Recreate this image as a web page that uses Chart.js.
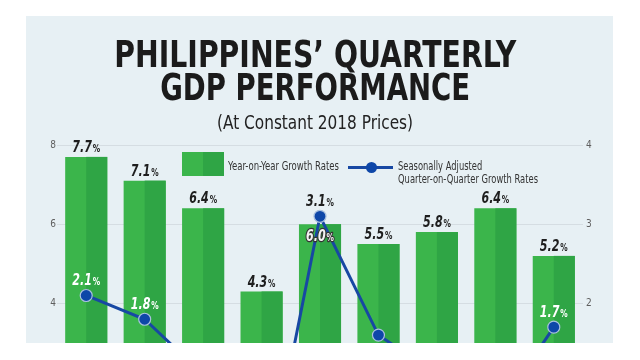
<!DOCTYPE html>
<html>
<head>
<meta charset="utf-8">
<script src="https://cdn.jsdelivr.net/npm/chart.js@4.4.1/dist/chart.umd.min.js"></script>
<style>
  body { margin: 0; width: 640px; height: 360px; overflow: hidden; background: #fff; position: relative;
         font-family: "Liberation Sans Narrow", "DejaVu Sans Condensed", "Roboto", sans-serif; }
  #panel { position: absolute; left: 26px; top: 16px; width: 587px; height: 327px; background: #e7f0f4; overflow: hidden; }
  #panel canvas { position: absolute; left: -26px; top: -16px; }
  .title { position: absolute; left: 0; width: 630px; text-align: center; white-space: nowrap; color: #1b1b1b; }
  .title span { display: inline-block; transform-origin: center; }
  #t1, #t2 { font-weight: 700; font-size: 37px; line-height: 37px; }
  #t1 { top: 36px; }
  #t2 { top: 69px; }
  #t3 { top: 112px; font-size: 20px; line-height: 20px; font-weight: 400; color: #222; }
  .legend-text { position: absolute; font-size: 13px; line-height: 12.5px; color: #333; white-space: nowrap; transform-origin: left center; }
  #lg-bar { position: absolute; left: 182px; top: 152px; width: 42px; height: 24px;
            background: linear-gradient(to right, #3bb54b 50%, #2fa545 50%); }
  #lg-line { position: absolute; left: 348px; top: 166px; width: 45px; height: 3px; background: #1748a3; }
  #lg-dot { position: absolute; left: 366px; top: 161.5px; width: 11px; height: 11px; border-radius: 50%; background: #0e47a8; }
</style>
</head>
<body>
<div id="panel"><canvas id="gdpChart" width="640" height="560"></canvas></div>
<div class="title" id="t1"><span>PHILIPPINES’ QUARTERLY</span></div>
<div class="title" id="t2"><span>GDP PERFORMANCE</span></div>
<div class="title" id="t3"><span>(At Constant 2018 Prices)</span></div>
<div id="lg-bar"></div>
<div class="legend-text" id="lg1" style="left:228px; top:160px;">Year-on-Year Growth Rates</div>
<div id="lg-line"></div>
<div id="lg-dot"></div>
<div class="legend-text" id="lg2" style="left:398px; top:160px;">Seasonally Adjusted<br>Quarter-on-Quarter Growth Rates</div>
<script>
const quarters = ['Q3 2022', 'Q4 2022', 'Q1 2023', 'Q2 2023', 'Q3 2023', 'Q4 2023', 'Q1 2024', 'Q2 2024', 'Q3 2024'];
const yoyGrowth = [7.7, 7.1, 6.4, 4.3, 6.0, 5.5, 5.8, 6.4, 5.2];
const qoqGrowth = [2.1, 1.8, 1.1, -0.6, 3.1, 1.6, 1.1, 0.6, 1.7];
// the 6.0% label sits inside its bar, under the 3.1% point
const yoyLabelInside = [false, false, false, false, true, false, false, false, false];
// only these quarter-on-quarter labels are printed in the picture
const qoqLabelShown = [true, true, false, false, true, false, false, false, true];

const FONT = '"Liberation Sans Narrow", "DejaVu Sans Condensed", sans-serif';

// squeeze title and legend lines to the widths seen in the picture
[['#t1 span', 402], ['#t2 span', 310], ['#t3 span', 196], ['#lg1', 111], ['#lg2', 140]].forEach(([sel, target]) => {
  const el = document.querySelector(sel);
  const w = el.getBoundingClientRect().width;
  el.style.transform = 'scaleX(' + (target / w) + ')';
});

// right half of each bar is a darker green
const twoTone = {
  id: 'twoTone',
  afterDatasetDraw(chart, args) {
    if (args.meta.type !== 'bar') return;
    const c = chart.ctx;
    const area = chart.chartArea;
    c.save();
    c.beginPath();
    c.rect(area.left, area.top, area.right - area.left, area.bottom - area.top);
    c.clip();
    c.fillStyle = '#2fa545';
    args.meta.data.forEach(el => {
      const p = el.getProps(['x', 'y', 'base', 'width'], true);
      c.fillRect(p.x, p.y, p.width / 2, p.base - p.y);
    });
    c.restore();
  }
};

function drawPct(c, value, x, y, fill, stroke) {
  const num = value.toFixed(1);
  const bigFont = 'italic bold 15px ' + FONT;
  const smallFont = 'bold 10px ' + FONT;
  c.save();
  c.translate(x, y);
  c.scale(0.82, 1);
  c.font = bigFont;
  const w1 = c.measureText(num).width;
  c.font = smallFont;
  const w2 = c.measureText('%').width;
  const start = -(w1 + w2 + 1) / 2;
  c.textBaseline = 'alphabetic';
  c.textAlign = 'left';
  [[bigFont, num, start], [smallFont, '%', start + w1 + 1]].forEach(([f, t, tx]) => {
    c.font = f;
    if (stroke) {
      c.strokeStyle = stroke;
      c.lineWidth = 2.5;
      c.lineJoin = 'round';
      c.strokeText(t, tx, 0);
    }
    c.fillStyle = fill;
    c.fillText(t, tx, 0);
  });
  c.restore();
}

const valueLabels = {
  id: 'valueLabels',
  afterDatasetsDraw(chart) {
    const c = chart.ctx;
    chart.getDatasetMeta(1).data.forEach((el, i) => {
      if (yoyLabelInside[i]) {
        drawPct(c, yoyGrowth[i], el.x, el.y + 17, '#f2f2f2', '#333');
      } else {
        drawPct(c, yoyGrowth[i], el.x, el.y - 5, '#1e1e1e', null);
      }
    });
    chart.getDatasetMeta(0).data.forEach((el, i) => {
      if (!qoqLabelShown[i]) return;
      // the 3.1% label stands on the light background, so it is dark
      const onBar = el.y > chart.getDatasetMeta(1).data[i].y;
      drawPct(c, qoqGrowth[i], el.x, el.y - 10, onBar ? '#ffffff' : '#1e1e1e', null);
    });
  }
};

const ctx = document.getElementById('gdpChart').getContext('2d');
const chart = new Chart(ctx, {
  type: 'bar',
  data: {
    labels: quarters,
    datasets: [{
      type: 'line',
      label: 'Seasonally Adjusted Quarter-on-Quarter Growth Rates',
      data: qoqGrowth,
      yAxisID: 'yQoq',
      borderColor: '#1748a3',
      borderWidth: 3,
      pointRadius: 6,
      pointBackgroundColor: '#0e47a8',
      pointBorderColor: '#a9c0de',
      pointBorderWidth: 1.2,
      tension: 0,
      order: 0
    }, {
      type: 'bar',
      label: 'Year-on-Year Growth Rates',
      data: yoyGrowth,
      yAxisID: 'yYoy',
      backgroundColor: '#3bb54b',
      barPercentage: 0.72,
      categoryPercentage: 1,
      order: 1
    }]
  },
  options: {
    responsive: false,
    animation: false,
    devicePixelRatio: 1,
    layout: { padding: { left: 44, right: 44, top: 145, bottom: 19 } },
    plugins: { legend: { display: false }, tooltip: { enabled: false } },
    scales: {
      x: { display: false },
      yYoy: {
        position: 'left', min: -2, max: 8,
        ticks: { stepSize: 2, padding: 1, color: '#5e5e5e', font: { size: 10, family: FONT } },
        grid: { color: '#d5dde2', drawTicks: false },
        border: { display: false },
        afterFit(scale) { scale.width = 13; }
      },
      yQoq: {
        position: 'right', min: -1, max: 4,
        ticks: { stepSize: 1, padding: 3, color: '#5e5e5e', font: { size: 10, family: FONT } },
        grid: { display: false, drawTicks: false },
        border: { display: false },
        afterFit(scale) { scale.width = 13; }
      }
    }
  },
  plugins: [twoTone, valueLabels]
});
</script>
</body>
</html>
